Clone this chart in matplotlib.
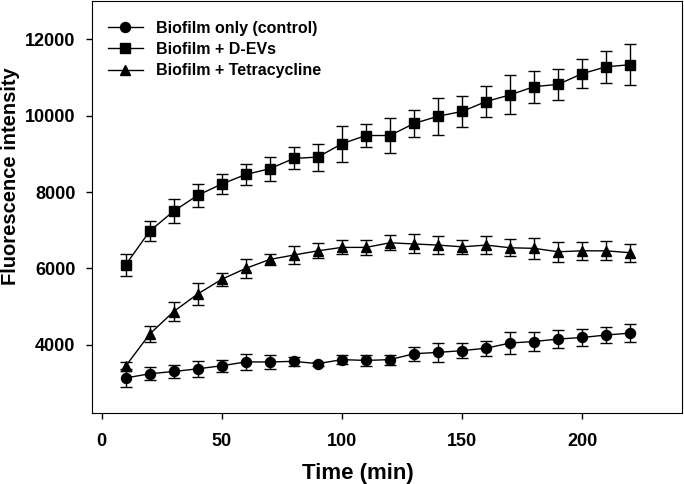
import matplotlib.pyplot as plt

plt.rcParams['font.family'] = ['Liberation Sans', 'DejaVu Sans']
plt.rcParams['font.weight'] = 'bold'

# === Dati ===
tempo = [10, 20, 30, 40, 50, 60, 70, 80, 90, 100, 110,
         120, 130, 140, 150, 160, 170, 180, 190, 200, 210, 220]

controllo = [3130, 3240, 3300, 3370, 3450, 3550, 3550, 3565, 3505, 3610, 3590,
             3610, 3765, 3800, 3845, 3910, 4045, 4085, 4150, 4190, 4255, 4305]
controllo_err = [225, 175, 175, 205, 160, 205, 185, 110, 50, 110, 150,
                 130, 185, 250, 200, 200, 285, 240, 240, 210, 215, 235]

d_evs = [6090, 6975, 7500, 7915, 8210, 8460, 8610, 8880, 8915, 9265, 9480,
         9480, 9795, 9985, 10110, 10370, 10545, 10760, 10820, 11100, 11280, 11335]
d_evs_err = [295, 260, 315, 300, 265, 275, 315, 290, 355, 475, 305,
             450, 360, 485, 415, 405, 510, 420, 410, 380, 420, 530]

tetraciclina = [3440, 4280, 4870, 5330, 5715, 6000, 6235, 6350, 6460, 6550, 6550,
                6670, 6640, 6610, 6565, 6610, 6540, 6525, 6435, 6460, 6460, 6410]
tetraciclina_err = [120, 215, 260, 295, 165, 240, 145, 225, 195, 185, 205,
                    195, 250, 240, 185, 240, 220, 275, 260, 230, 250, 240]

etichette = ["Biofilm only (control)", "Biofilm + D-EVs", "Biofilm + Tetracycline"]

# === Grafico ===
fig = plt.figure(figsize=(6.84, 4.84), dpi=100)
ax = fig.add_axes([0.1345, 0.1457, 0.8625, 0.852])

serie = [
    (controllo, controllo_err, 'o', 7.2),
    (d_evs, d_evs_err, 's', 6.8),
    (tetraciclina, tetraciclina_err, '^', 7.5),
]

for (valori, errori, marker, ms), etichetta in zip(serie, etichette):
    ax.errorbar(tempo, valori, yerr=errori, fmt='none', ecolor='black',
                elinewidth=1, capsize=4.2, capthick=1)
    ax.plot(tempo, valori, color='black', marker=marker, markersize=ms,
            linewidth=1, label=etichetta)

ax.set_xlim(-4, 241.5)
ax.set_ylim(2200, 13000)
ax.set_xticks([0, 50, 100, 150, 200])
ax.set_yticks([4000, 6000, 8000, 10000, 12000])
ax.tick_params(axis='both', direction='out', length=4.5, width=1, labelsize=13)
ax.tick_params(axis='y', pad=7.5)
ax.tick_params(axis='x', pad=9.5)

ax.set_xlabel("Time (min)", fontsize=16, fontweight='bold')
ax.set_ylabel("Fluorescence intensity", fontsize=14.5, fontweight='bold')
ax.xaxis.set_label_coords(0.451, -0.119)
ax.yaxis.set_label_coords(-0.122, 0.575)

ax.legend(loc='upper left', frameon=False, fontsize=11.5, handlelength=2.2,
          handletextpad=0.8, labelspacing=0.4, borderaxespad=0.3,
          bbox_to_anchor=(0.008, 0.98))

fig.savefig("out.png", dpi=100)
